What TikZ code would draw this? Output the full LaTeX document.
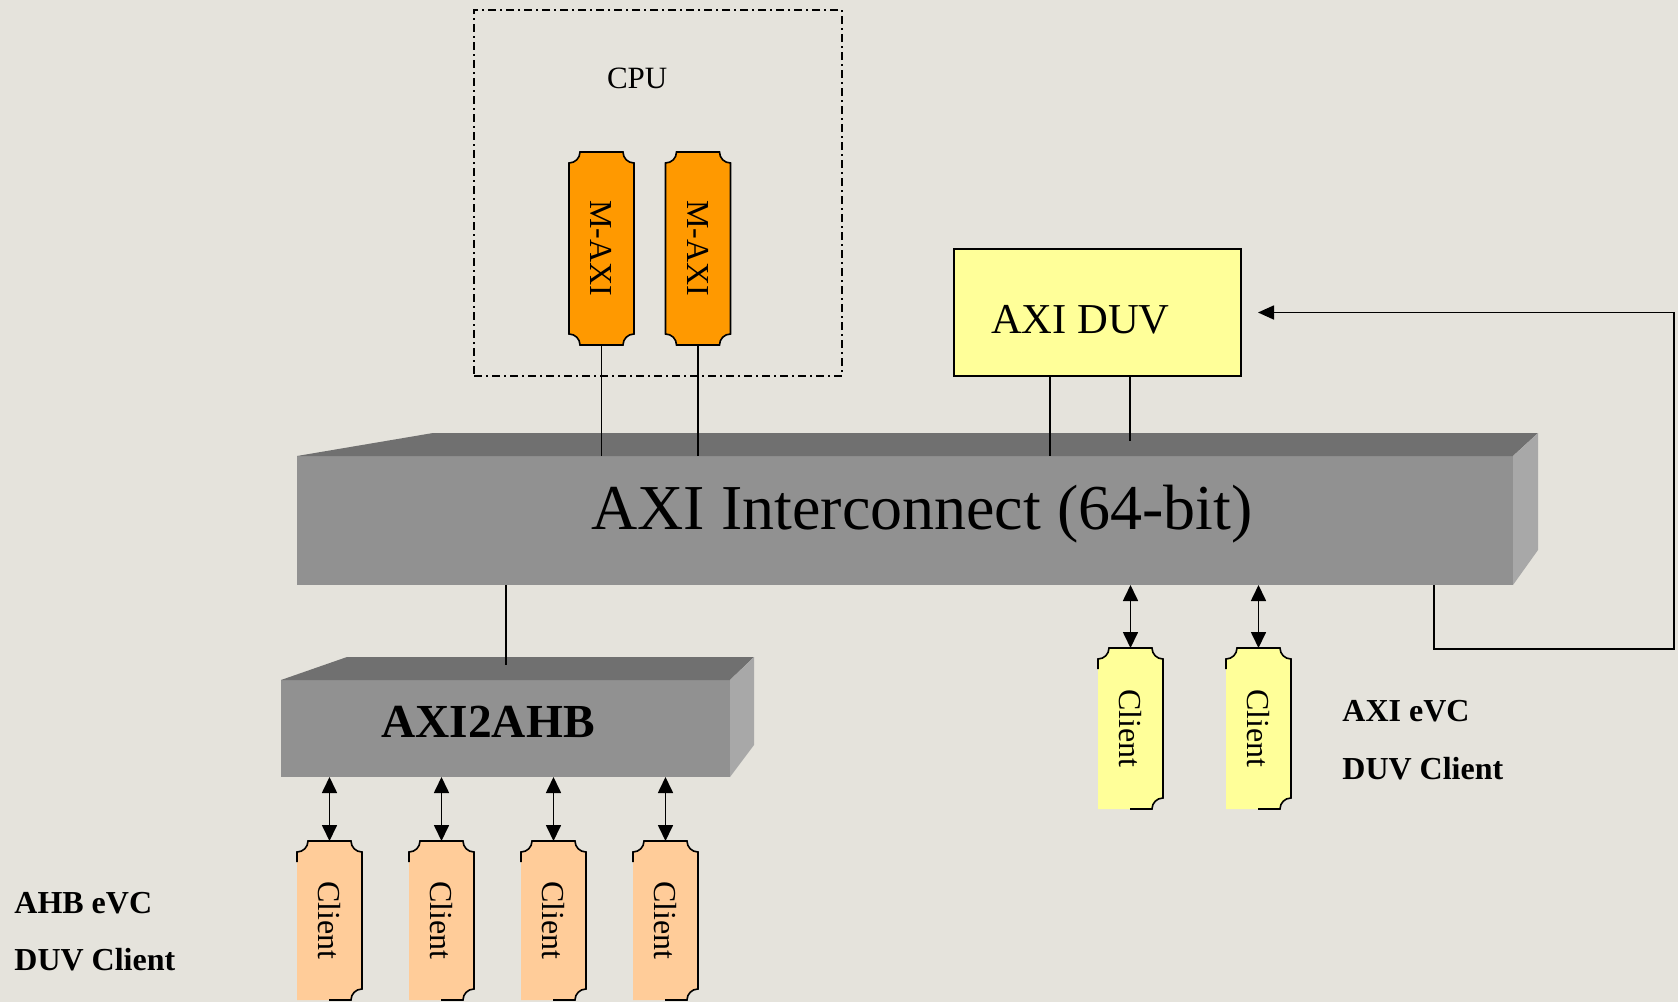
\documentclass[tikz,border=0pt]{standalone}
\usepackage{graphicx}
\usepackage{fontspec}
\setmainfont{Liberation Serif}
\usetikzlibrary{calc,arrows.meta}
\pgfdeclarelayer{back}
\pgfdeclarelayer{mid}
\pgfsetlayers{back,mid,main}
\definecolor{bg}{RGB}{229,227,220}
\definecolor{frontg}{RGB}{145,145,145}
\definecolor{topg}{RGB}{112,112,112}
\definecolor{sideg}{RGB}{168,168,168}
\definecolor{maxic}{RGB}{255,153,0}
\definecolor{ahbc}{RGB}{255,204,153}
\definecolor{axic}{RGB}{255,255,153}
\newcommand\fullnotch[2]{%
  \path[fill=#2, draw=black, line width=0.8pt]
    ($(#1.north west)+(0,-5.5pt)$) arc[start angle=-90,end angle=0,radius=5.5pt]
    -- ($(#1.north east)+(-5.5pt,0)$) arc[start angle=180,end angle=270,radius=5.5pt]
    -- ($(#1.south east)+(0,5.5pt)$) arc[start angle=90,end angle=180,radius=5.5pt]
    -- ($(#1.south west)+(5.5pt,0)$) arc[start angle=0,end angle=90,radius=5.5pt]
    -- cycle;}
\newcommand\clientnotch[2]{%
  \fill[#2]
    ($(#1.north west)+(0,-5.5pt)$) arc[start angle=-90,end angle=0,radius=5.5pt]
    -- ($(#1.north east)+(-5.5pt,0)$) arc[start angle=180,end angle=270,radius=5.5pt]
    -- ($(#1.south east)+(0,5.5pt)$) arc[start angle=90,end angle=180,radius=5.5pt]
    -- (#1.south west) -- cycle;
  \draw[line width=0.8pt]
    ($(#1.north west)+(0,-10.5pt)$) -- ($(#1.north west)+(0,-5.5pt)$)
    arc[start angle=-90,end angle=0,radius=5.5pt]
    -- ($(#1.north east)+(-5.5pt,0)$) arc[start angle=180,end angle=270,radius=5.5pt]
    -- ($(#1.south east)+(0,5.5pt)$) arc[start angle=90,end angle=180,radius=5.5pt]
    -- ($(#1.south west)+(16pt,0)$);}
\begin{document}
\begin{tikzpicture}[x=0.5pt,y=-0.5pt,
  box/.style={inner sep=0pt, outer sep=0pt},
  notchnode/.style={box, minimum width=32.5pt, font=\fontsize{16}{19}\selectfont},
  front/.style={box, fill=frontg},
  conn/.style={line width=0.85pt},
  dbl/.style={conn, {Triangle[length=8pt,width=7.5pt]}-{Triangle[length=8pt,width=7.5pt]}},
  arr/.style={conn, -{Triangle[length=8pt,width=7pt]}},
  lbl/.style={font=\bfseries\fontsize{16}{19}\selectfont, anchor=base west, inner sep=0pt}]
\begin{pgfonlayer}{back}
\fill[bg] (0,0) rectangle (1678,1002);
\end{pgfonlayer}
\useasboundingbox (0,0) rectangle (1678,1002);

% CPU
\node[box, draw, line width=0.6pt, dash pattern=on 4pt off 2pt on 1pt off 2pt,
      minimum width=184pt, minimum height=183pt] (cpu) at (658,193) {};
\node[box, anchor=base west, font=\fontsize{15.5}{18}\selectfont] (cputext) at (607,88) {CPU};

% M-AXI
\node[notchnode, minimum height=96.5pt] (m1) at (601.5,248.5) {\rotatebox{-90}{M-AXI}};
\node[notchnode, minimum height=96.5pt] (m2) at (698,248.5) {\rotatebox{-90}{M-AXI}};
\begin{pgfonlayer}{mid}
\fullnotch{m1}{maxic}
\fullnotch{m2}{maxic}
\end{pgfonlayer}

% AXI DUV
\node[box, draw, line width=0.8pt, fill=axic, minimum width=143.5pt, minimum height=63.5pt] (duv) at (1097.5,312.5) {};
\node[box, anchor=base west, font=\fontsize{21.3}{25}\selectfont] (duvtext) at (991,333) {AXI DUV};

% AXI Interconnect
\node[front, minimum width=608pt, minimum height=64.5pt] (ic) at (905,520.5) {};
\fill[topg] (ic.north west) -- (433,433) -- (1538,433) -- (ic.north east) -- cycle;
\fill[sideg] (ic.north east) -- (1538,433) -- (1538,550) -- (ic.south east) -- cycle;
\node[box, anchor=base, font=\fontsize{32}{38}\selectfont] (ictext) at (922,529) {AXI Interconnect (64-bit)};

% AXI2AHB
\node[front, minimum width=224.5pt, minimum height=48.5pt] (ab) at (505.5,728.5) {};
\fill[topg] (ab.north west) -- (347,657) -- (754,657) -- (ab.north east) -- cycle;
\fill[sideg] (ab.north east) -- (754,657) -- (754,745) -- (ab.south east) -- cycle;
\node[box, anchor=base, font=\bfseries\fontsize{23.7}{28}\selectfont] (abtext) at (488,737) {AXI2AHB};

% AHB clients
\node[notchnode, minimum height=79.5pt] (c1) at (329.5,920.5) {\rotatebox{-90}{Client}};
\node[notchnode, minimum height=79.5pt] (c2) at (441.5,920.5) {\rotatebox{-90}{Client}};
\node[notchnode, minimum height=79.5pt] (c3) at (553.5,920.5) {\rotatebox{-90}{Client}};
\node[notchnode, minimum height=79.5pt] (c4) at (665.5,920.5) {\rotatebox{-90}{Client}};
% AXI clients
\node[notchnode, minimum height=80.5pt] (a1) at (1130.5,728.5) {\rotatebox{-90}{Client}};
\node[notchnode, minimum height=80.5pt] (a2) at (1258.5,728.5) {\rotatebox{-90}{Client}};
\begin{pgfonlayer}{mid}
\clientnotch{c1}{ahbc}
\clientnotch{c2}{ahbc}
\clientnotch{c3}{ahbc}
\clientnotch{c4}{ahbc}
\clientnotch{a1}{axic}
\clientnotch{a2}{axic}
\end{pgfonlayer}

% labels
\node[lbl] (l1) at (14,913) {AHB eVC};
\node[lbl] (l2) at (14,970) {DUV Client};
\node[lbl] (l3) at (1342,721) {AXI eVC};
\node[lbl] (l4) at (1342,779) {DUV Client};

% helper coordinates
\coordinate (d1) at (1050,0);
\coordinate (d2) at (1130,0);
\coordinate (tf) at (0,441);
\coordinate (x506) at (506,0);
\coordinate (abtop) at (0,665);
\coordinate (fb) at (1434,0);
\coordinate (fbr) at (1674,649);

% connectors
\draw[conn] (m1.south) -- (m1.south |- ic.north);
\draw[conn] (m2.south) -- (m2.south |- ic.north);
\draw[conn] (duv.south -| d1) -- (ic.north -| d1);
\draw[conn] (duv.south -| d2) -- (d2 |- tf);
\draw[conn] (ic.south -| x506) -- (x506 |- abtop);
\draw[arr, shorten >=8.5pt] (ic.south -| fb) |- (fbr) |- (duv.east);
\draw[dbl] (ic.south -| a1) -- (a1.north);
\draw[dbl] (ic.south -| a2) -- (a2.north);
\draw[dbl] (ab.south -| c1) -- (c1.north);
\draw[dbl] (ab.south -| c2) -- (c2.north);
\draw[dbl] (ab.south -| c3) -- (c3.north);
\draw[dbl] (ab.south -| c4) -- (c4.north);
\end{tikzpicture}
\end{document}
